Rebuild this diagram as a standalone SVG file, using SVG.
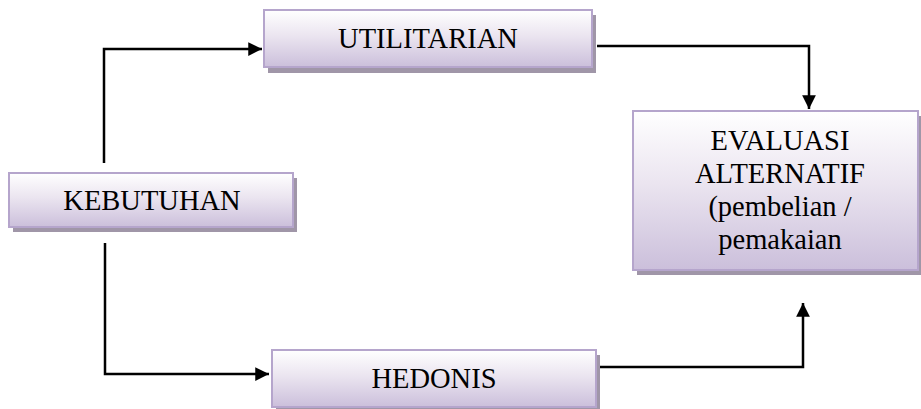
<svg xmlns="http://www.w3.org/2000/svg" width="921" height="409" viewBox="0 0 921 409">
  <style>
    .box { fill: url(#boxFill); stroke: #b5a5cc; stroke-width: 2; }
    .shadow { fill: #a096a8; }
    .label { font-family: "Liberation Serif", "Times New Roman", serif; font-size: 28.5px; fill: #000; text-anchor: middle; }
    .wire { fill: none; stroke: #000; stroke-width: 2.5; }
  </style>
  <defs>
    <linearGradient id="boxFill" x1="0" y1="0" x2="0" y2="1">
      <stop offset="0" stop-color="#ffffff"/>
      <stop offset="0.45" stop-color="#ebe5f0"/>
      <stop offset="1" stop-color="#cbbfdb"/>
    </linearGradient>
    <marker id="arrow" viewBox="0 0 10 10" refX="10" refY="5" markerWidth="6" markerHeight="5.5" orient="auto" markerUnits="strokeWidth">
      <path d="M0,0 L10,5 L0,10 Z" fill="#000"/>
    </marker>
  </defs>

  <rect width="921" height="409" fill="#fff"/>

  <!-- connectors -->
  <g id="connectors">
    <polyline class="wire" points="104,163 104,49 262,49" marker-end="url(#arrow)"/>
    <polyline class="wire" points="105,243 105,374 269,374" marker-end="url(#arrow)"/>
    <polyline class="wire" points="597,46 809,46 809,109" marker-end="url(#arrow)"/>
    <polyline class="wire" points="598,367 803,367 803,303" marker-end="url(#arrow)"/>
  </g>

  <g id="utilitarian">
    <rect class="shadow" x="268" y="15" width="328" height="58"/>
    <rect class="box" x="264" y="10" width="328" height="57"/>
    <text class="label" x="428" y="48">UTILITARIAN</text>
  </g>

  <g id="kebutuhan">
    <rect class="shadow" x="13" y="178" width="284" height="54"/>
    <rect class="box" x="9" y="173" width="284" height="54"/>
    <text class="label" x="152" y="210">KEBUTUHAN</text>
  </g>

  <g id="hedonis">
    <rect class="shadow" x="276" y="355" width="324" height="57"/>
    <rect class="box" x="272" y="350" width="324" height="57"/>
    <text class="label" x="434" y="388">HEDONIS</text>
  </g>

  <g id="evaluasi">
    <rect class="shadow" x="637" y="116" width="284" height="159"/>
    <rect class="box" x="633" y="111" width="285" height="159"/>
    <text class="label" x="780" y="150">EVALUASI</text>
    <text class="label" x="780" y="183">ALTERNATIF</text>
    <text class="label" x="780" y="216">(pembelian /</text>
    <text class="label" x="780" y="249">pemakaian</text>
  </g>
</svg>
